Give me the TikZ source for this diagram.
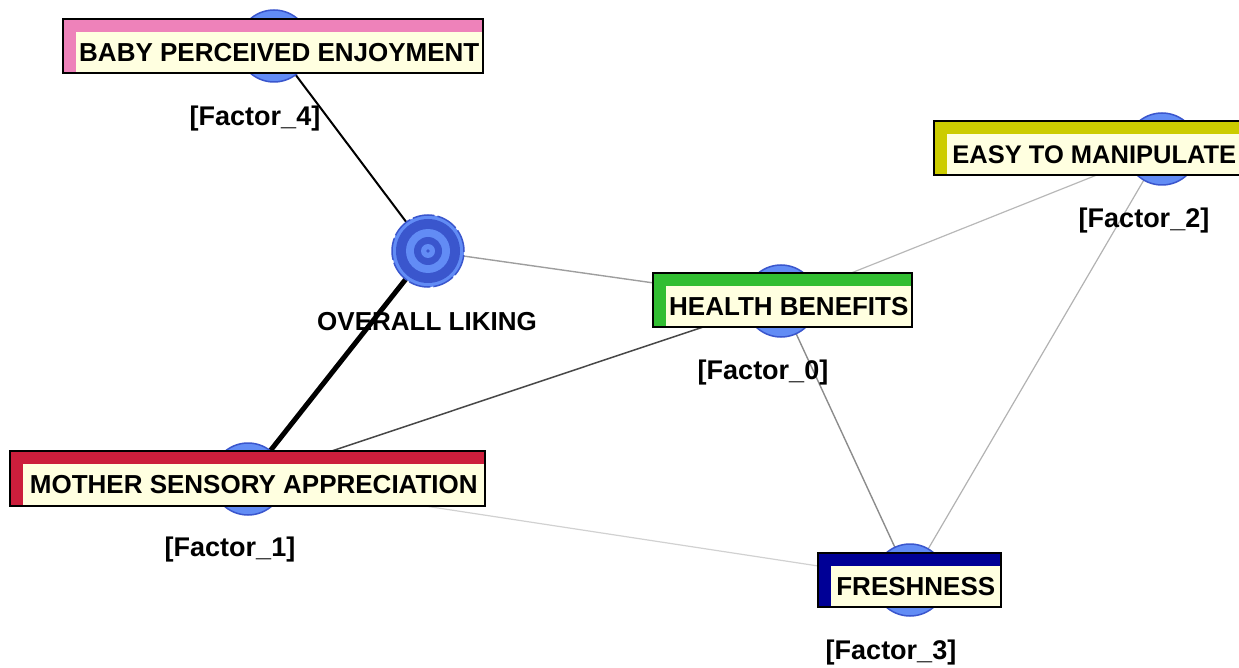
\documentclass[tikz,border=0pt]{standalone}
\usepackage{fontspec}
\setsansfont{Liberation Sans}
\usetikzlibrary{backgrounds}
\definecolor{nodeblue}{RGB}{98,140,245}
\definecolor{ringblue}{RGB}{58,86,205}
\definecolor{cream}{RGB}{255,255,224}
\definecolor{bandpink}{RGB}{238,130,186}
\definecolor{bandred}{RGB}{204,30,60}
\definecolor{bandgreen}{RGB}{50,190,50}
\definecolor{bandolive}{RGB}{204,204,0}
\definecolor{bandnavy}{RGB}{0,0,150}
\tikzset{
  lbl/.style={font=\sffamily\bfseries\fontsize{26}{30}\selectfont, inner sep=0pt},
  faclbl/.style={font=\sffamily\bfseries\fontsize{27}{31}\selectfont, inner sep=0pt},
  factorcircle/.style={circle, minimum size=72pt, inner sep=0pt, fill=nodeblue, draw=ringblue, line width=1.5pt},
  creambox/.style={lbl, fill=cream, inner sep=0pt, anchor=south east},
  boxborder/.style={draw=black, line width=1.3pt},
  edge/.style={line width=#1},
}
\newcommand\facbox[7]{%
  \fill[#2] (#3,#4) rectangle (#5,#6);
  \node[creambox, minimum width={#5-#3-13}, minimum height={#6-#4-13}] (#1) at (#5,#6) {#7};
  \draw[boxborder] (#3,#4) rectangle (#5,#6);
}
\begin{document}
\begin{tikzpicture}[x=1pt,y=-1pt]
\useasboundingbox (0,0) rectangle (1239,668);
% circles
\node[factorcircle] (bpe) at (274,46) {};
\node[factorcircle] (hb) at (781,301) {};
\node[factorcircle] (etm) at (1162,149) {};
\node[factorcircle] (msa) at (248,479) {};
\node[factorcircle] (fr) at (910,580) {};
\node[factorcircle, draw=ringblue, dash pattern=on 22pt off 3pt] (ol) at (428,251) {};
\fill[ringblue] (ol) circle (32pt);
\fill[nodeblue] (ol) circle (22pt);
\fill[ringblue] (ol) circle (14pt);
\fill[nodeblue] (ol) circle (7pt);
\fill[ringblue] (ol) circle (1.8pt);
% edges
\begin{pgfonlayer}{background}
\draw[edge=2pt, black] (bpe.center) -- (ol.center);
\draw[edge=5pt, black] (ol.center) -- (msa.center);
\draw[edge=1.4pt, black!38] (ol.center) -- (hb.center);
\draw[edge=1.2pt, black!28] (hb.center) -- (etm.center);
\draw[edge=1.5pt, black!72] (hb.center) -- (msa.center);
\draw[edge=1.4pt, black!45] (hb.center) -- (fr.center);
\draw[edge=1.2pt, black!30] (etm.center) -- (fr.center);
\draw[edge=1.2pt, black!18] (msa.center) -- (fr.center);
\end{pgfonlayer}
% boxes
\facbox{bpeB}{bandpink}{63}{19}{483}{73}{BABY PERCEIVED ENJOYMENT}
\facbox{hbB}{bandgreen}{653}{273}{912}{327}{HEALTH BENEFITS}
\facbox{etmB}{bandolive}{934}{121}{1242}{175}{\fontsize{25.5}{30}\selectfont EASY TO MANIPULATE}
\facbox{msaB}{bandred}{10}{451}{485}{506}{MOTHER SENSORY APPRECIATION}
\facbox{frB}{bandnavy}{818}{553}{1001}{607}{FRESHNESS}
% labels
\node[faclbl] (l4) at (255,119) {[Factor\_4]};
\node[faclbl] (l1) at (230,550) {[Factor\_1]};
\node[faclbl] (l0) at (763,373) {[Factor\_0]};
\node[faclbl] (l2) at (1144,221) {[Factor\_2]};
\node[faclbl] (l3) at (891,653) {[Factor\_3]};
\node[lbl] (lol) at (427,322) {OVERALL LIKING};
\end{tikzpicture}
\end{document}
